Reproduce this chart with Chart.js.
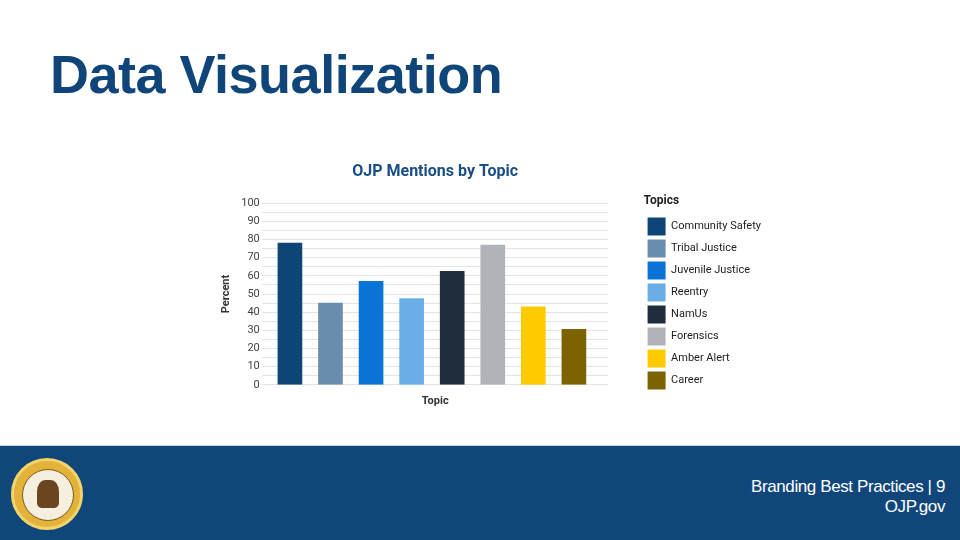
<!DOCTYPE html>
<html lang="en">
  <head>
    <meta charset="UTF-8" />
    <style>
      body { margin: 0; width: 960px; height: 540px; background: #fff; position: relative; overflow: hidden; font-family: "Liberation Sans", Arial, sans-serif; }
      h1 { position: absolute; left: 50px; top: 43px; margin: 0; font-size: 54px; line-height: 62px; font-weight: bold; color: #10457a; letter-spacing: -0.5px; }
      #wrap { position: absolute; left: 220px; top: 150px; width: 551px; height: 262px; }
      #footer { position: absolute; left: 0; top: 445px; width: 960px; height: 95px; background: #10467a; border-top: 1px solid #c9d3de; }
      #seal { position: absolute; left: 11px; top: 12px; width: 66px; height: 66px; border-radius: 50%; background: #e2b23a; border: 3px solid #f3d46a; }
      #seal div { position: absolute; left: 8px; top: 8px; width: 50px; height: 50px; border-radius: 50%; background: #f5efe0; border: 1px solid #7a5b1b; }
      #seal span { position: absolute; left: 14px; top: 10px; width: 22px; height: 28px; border-radius: 40% 40% 20% 20%; background: #6b4420; }
      #ftext { position: absolute; right: 15px; top: 31px; color: #fff; text-align: right; font-size: 17px; line-height: 20px; letter-spacing: -0.4px; }
    </style>
  </head>
  <body>
    <h1>Data Visualization</h1>
    <div id="wrap"><canvas id="myChart"></canvas></div>
    <div id="footer">
      <div id="seal"><div><span></span></div></div>
      <div id="ftext">Branding Best Practices | 9<br />OJP.gov</div>
    </div>
    <script src="https://cdn.jsdelivr.net/npm/chart.js@4.4.0/dist/chart.umd.min.js"></script>
    <script>
      var topics = ["Community Safety", "Tribal Justice", "Juvenile Justice", "Reentry", "NamUs", "Forensics", "Amber Alert", "Career"];
      var percents = [78, 45, 57, 47.5, 62.5, 77, 43, 30.5];
      var colors = ["#0f4477", "#6a8cad", "#0a74d6", "#6aaee8", "#1f2d3d", "#b0b3b8", "#fecb00", "#7b6400"];

      // bars sit on a linear x axis (one unit per topic) so the plot can have
      // the uneven side margins of the original
      var ctx = document.getElementById("myChart").getContext("2d");
      var chart = new Chart(ctx, {
        type: "bar",
        data: {
          datasets: [
            {
              data: percents.map(function (v, i) {
                return { x: i, y: v };
              }),
              backgroundColor: colors,
              barThickness: 24,
            },
          ],
        },
        options: {
          responsive: true,
          maintainAspectRatio: false,
          animation: false,
          plugins: {
            title: {
              display: true,
              fullSize: false,
              text: "OJP Mentions by Topic",
              color: "#1a4e82",
              font: { family: "Roboto", size: 16, weight: "bold" },
              padding: { top: 12, bottom: 22 },
            },
            legend: {
              position: "right",
              align: "start",
              maxWidth: 160,
              title: {
                display: true,
                position: "start",
                text: "Topics",
                color: "#222",
                font: { family: "Roboto", size: 12, weight: "bold" },
                padding: { top: 45, bottom: 4 },
              },
              labels: {
                boxWidth: 18,
                boxHeight: 18,
                padding: 4,
                color: "#333",
                font: { family: "Roboto", size: 11 },
                generateLabels: function (c) {
                  return topics.map(function (t, i) {
                    return { text: t, fillStyle: colors[i], strokeStyle: colors[i], lineWidth: 0, index: i };
                  });
                },
              },
              onClick: function () {},
            },
            tooltip: { enabled: false },
          },
          scales: {
            x: {
              type: "linear",
              offset: false,
              min: -0.695,
              max: 7.855,
              grid: { display: false },
              border: { display: false },
              ticks: { display: false },
              title: {
                display: true,
                text: "Topic",
                color: "#333",
                font: { family: "Roboto", size: 11, weight: "bold" },
                padding: { top: 2, bottom: 4 },
              },
            },
            y: {
              min: 0,
              max: 100,
              border: { display: false },
              grid: { color: "#e4e4e4", drawTicks: false },
              ticks: {
                stepSize: 5,
                autoSkip: false,
                color: "#444",
                padding: 2,
                font: { family: "Roboto", size: 11 },
                callback: function (v) {
                  return v % 10 === 0 ? v : "";
                },
              },
              title: {
                display: true,
                text: "Percent",
                color: "#333",
                font: { family: "Roboto", size: 11, weight: "bold" },
                padding: { top: 0, bottom: 6 },
              },
            },
            gap: {
              position: "right",
              grid: { display: false },
              border: { display: false },
              ticks: { display: false },
              afterFit: function (s) {
                s.width = 35;
              },
            },
          },
        },
      });
    </script>
  </body>
</html>
